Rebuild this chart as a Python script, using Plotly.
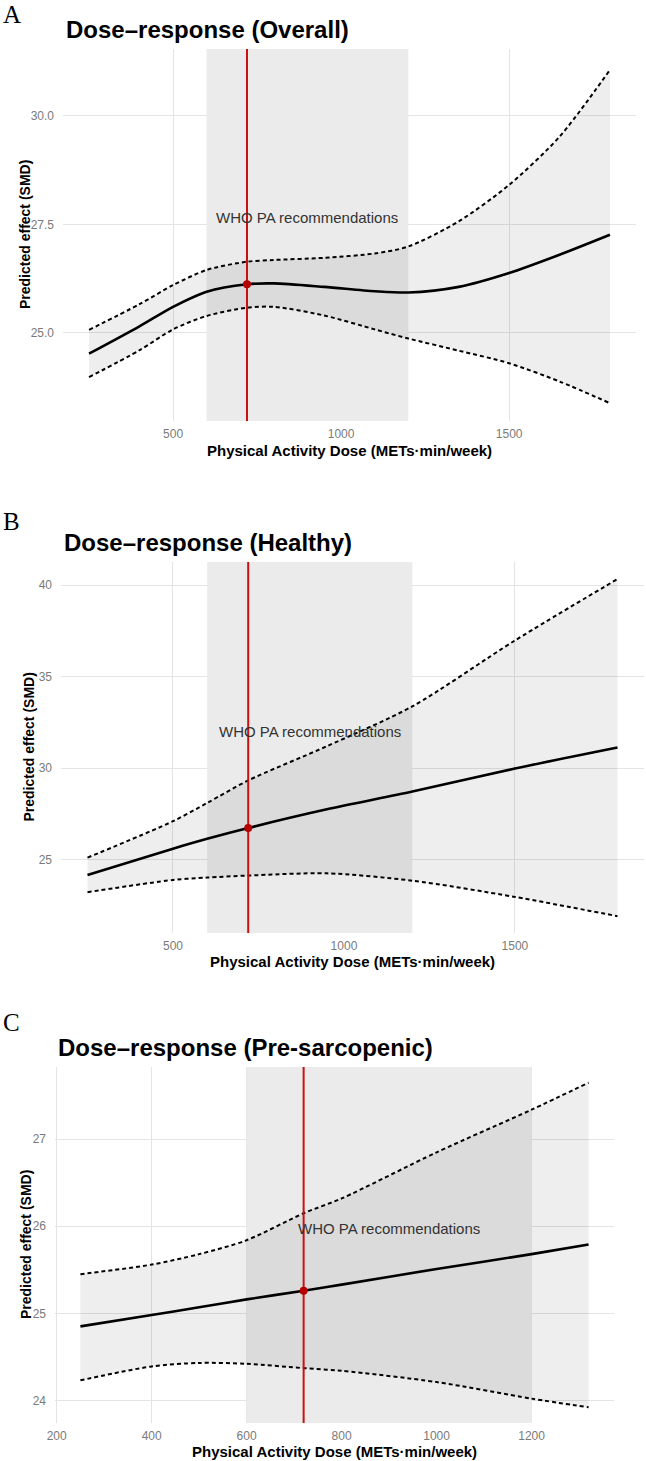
import plotly.graph_objects as go

# ---------------- data ----------------
WHO_DOSE = 720
WHO_RANGE = [600, 1200]
WHO_LABEL = "WHO PA recommendations"
WHO_LABEL_X = 900

# Panel A (Overall)
a_dose = [250, 400, 500, 600, 720, 800, 950, 1100, 1200, 1350, 1500, 1650, 1800]
a_fit = [24.52, 25.15, 25.60, 25.95, 26.12, 26.14, 26.06, 25.96, 25.93, 26.06, 26.38, 26.80, 27.26]
a_upper = [25.07, 25.66, 26.10, 26.45, 26.64, 26.68, 26.73, 26.83, 26.99, 27.57, 28.41, 29.52, 31.06]
a_lower = [23.98, 24.60, 25.08, 25.39, 25.58, 25.60, 25.40, 25.08, 24.87, 24.59, 24.30, 23.88, 23.38]
a_label_y = 27.65

# Panel B (Healthy)
b_dose = [250, 500, 600, 720, 950, 1200, 1500, 1800]
b_fit = [24.16, 25.60, 26.14, 26.73, 27.75, 28.72, 29.98, 31.13]
b_upper = [25.11, 27.10, 28.10, 29.33, 31.20, 33.38, 36.98, 40.34]
b_lower = [23.22, 23.89, 24.02, 24.13, 24.25, 23.85, 22.96, 21.91]
b_label_y = 32.0

# Panel C (Pre-sarcopenic)
c_dose = [250, 400, 500, 600, 720, 800, 1000, 1200, 1320]
c_fit = [24.85, 24.98, 25.07, 25.16, 25.26, 25.33, 25.51, 25.68, 25.79]
c_upper = [25.45, 25.56, 25.68, 25.84, 26.15, 26.32, 26.85, 27.34, 27.65]
c_lower = [24.23, 24.39, 24.43, 24.42, 24.37, 24.34, 24.21, 24.02, 23.92]
c_label_y = 25.97

titles = ["Dose\u2013response (Overall)", "Dose\u2013response (Healthy)", "Dose\u2013response (Pre-sarcopenic)"]
letters = ["A", "B", "C"]
x_title = "Physical Activity Dose (METs\u00b7min/week)"
y_title = "Predicted effect (SMD)"

a_xticks = [500, 1000, 1500]
a_yticks = [25.0, 27.5, 30.0]
a_yticktext = ["25.0", "27.5", "30.0"]
b_xticks = [500, 1000, 1500]
b_yticks = [25, 30, 35, 40]
c_xticks = [200, 400, 600, 800, 1000, 1200]
c_yticks = [24, 25, 26, 27]

# ---------------- layout (pixels) ----------------
W, H = 646, 1461
FONT = "Liberation Sans"

panels = [
    dict(dose=a_dose, fit=a_fit, up=a_upper, lo=a_lower, ly=a_label_y,
         xt=a_xticks, yt=a_yticks, ytt=a_yticktext,
         px=(63, 636), py=(49, 421), title_xy=(64, 30), letter_y=15,
         xrange=[172.5, 1877.5], yrange=[22.97, 31.54],
         xtitle_y=450, ytitle_x=25),
    dict(dose=b_dose, fit=b_fit, up=b_upper, lo=b_lower, ly=b_label_y,
         xt=b_xticks, yt=b_yticks, ytt=[str(v) for v in b_yticks],
         px=(61, 644), py=(562, 933), title_xy=(62, 542), letter_y=521,
         xrange=[172.5, 1877.5], yrange=[20.99, 41.27],
         xtitle_y=962, ytitle_x=28),
    dict(dose=c_dose, fit=c_fit, up=c_upper, lo=c_lower, ly=c_label_y,
         xt=c_xticks, yt=c_yticks, ytt=[str(v) for v in c_yticks],
         px=(55, 614), py=(1067, 1423), title_xy=(56, 1047), letter_y=1022,
         xrange=[196.5, 1373.5], yrange=[23.74, 27.83],
         xtitle_y=1451, ytitle_x=26),
]


def fx(p):
    return p / W


def fy(p):
    return 1 - p / H


fig = go.Figure()
annotations = []

for i, p in enumerate(panels):
    n = "" if i == 0 else str(i + 1)
    xa, ya = "x" + n, "y" + n
    y0, y1 = p["yrange"]
    # WHO recommendation band (opaque, above the gridlines)
    fig.add_trace(go.Scatter(x=[WHO_RANGE[0], WHO_RANGE[1], WHO_RANGE[1], WHO_RANGE[0], WHO_RANGE[0]],
                             y=[y0, y0, y1, y1, y0], mode="lines", fill="toself",
                             fillcolor="#ebebeb", line=dict(width=0), xaxis=xa, yaxis=ya,
                             showlegend=False, hoverinfo="skip"))
    # ribbon + dashed bounds
    fig.add_trace(go.Scatter(x=p["dose"], y=p["lo"], mode="lines", xaxis=xa, yaxis=ya,
                             line=dict(color="black", width=2, dash="4px,3px", shape="spline", smoothing=0.8),
                             showlegend=False, hoverinfo="skip"))
    fig.add_trace(go.Scatter(x=p["dose"], y=p["up"], mode="lines", xaxis=xa, yaxis=ya,
                             line=dict(color="black", width=2, dash="4px,3px", shape="spline", smoothing=0.8),
                             fill="tonexty", fillcolor="rgba(0,0,0,0.065)",
                             showlegend=False, hoverinfo="skip"))
    # fitted curve
    fig.add_trace(go.Scatter(x=p["dose"], y=p["fit"], mode="lines", xaxis=xa, yaxis=ya,
                             line=dict(color="black", width=2.6, shape="spline", smoothing=0.8),
                             showlegend=False))
    # WHO vertical line
    fig.add_trace(go.Scatter(x=[WHO_DOSE, WHO_DOSE], y=[y0, y1], mode="lines", xaxis=xa, yaxis=ya,
                             line=dict(color="#cc1010", width=2), showlegend=False, hoverinfo="skip"))
    # WHO point
    k = p["dose"].index(WHO_DOSE)
    fig.add_trace(go.Scatter(x=[WHO_DOSE], y=[p["fit"][k]], mode="markers", xaxis=xa, yaxis=ya,
                             marker=dict(color="#b50000", size=8), showlegend=False))

    axis_common = dict(showline=False, zeroline=False, ticks="", showgrid=True, automargin=False,
                       gridcolor="#e4e4e4", gridwidth=1,
                       tickfont=dict(family=FONT, size=12, color="#7a7a7a"))
    fig.update_layout(**{
        ("xaxis" + n): dict(domain=[fx(p["px"][0]), fx(p["px"][1])], range=p["xrange"],
                            tickvals=p["xt"], anchor=ya, ticklabelstandoff=4, **axis_common),
        ("yaxis" + n): dict(domain=[fy(p["py"][1]), fy(p["py"][0])], range=p["yrange"],
                            tickvals=p["yt"], ticktext=p["ytt"], anchor=xa,
                            ticklabelstandoff=8, **axis_common),
    })

    annotations.append(dict(x=WHO_LABEL_X, y=p["ly"], xref=xa, yref=ya, text=WHO_LABEL,
                            showarrow=False, font=dict(family=FONT, size=15, color="#333333"),
                            xanchor="center", yanchor="middle"))
    annotations.append(dict(x=fx(p["title_xy"][0]), y=fy(p["title_xy"][1]), xref="paper", yref="paper",
                            text="<b>" + titles[i] + "</b>", showarrow=False,
                            font=dict(family=FONT, size=24, color="black"),
                            xanchor="left", yanchor="middle"))
    annotations.append(dict(x=fx(1), y=fy(p["letter_y"]), xref="paper", yref="paper",
                            text=letters[i], showarrow=False,
                            font=dict(family="Liberation Serif", size=25, color="black"),
                            xanchor="left", yanchor="middle"))
    annotations.append(dict(x=fx((p["px"][0] + p["px"][1]) / 2), y=fy(p["xtitle_y"]),
                            xref="paper", yref="paper", text="<b>" + x_title + "</b>",
                            showarrow=False, font=dict(family=FONT, size=15, color="black"),
                            xanchor="center", yanchor="middle"))
    annotations.append(dict(x=fx(p["ytitle_x"]), y=fy((p["py"][0] + p["py"][1]) / 2),
                            xref="paper", yref="paper", text="<b>" + y_title + "</b>",
                            showarrow=False, textangle=-90,
                            font=dict(family=FONT, size=14, color="black"),
                            xanchor="center", yanchor="middle"))

fig.update_layout(width=W, height=H, margin=dict(l=0, r=0, t=0, b=0, autoexpand=False),
                  paper_bgcolor="white", plot_bgcolor="white",
                  annotations=annotations, showlegend=False)

fig.write_html("out.html")
